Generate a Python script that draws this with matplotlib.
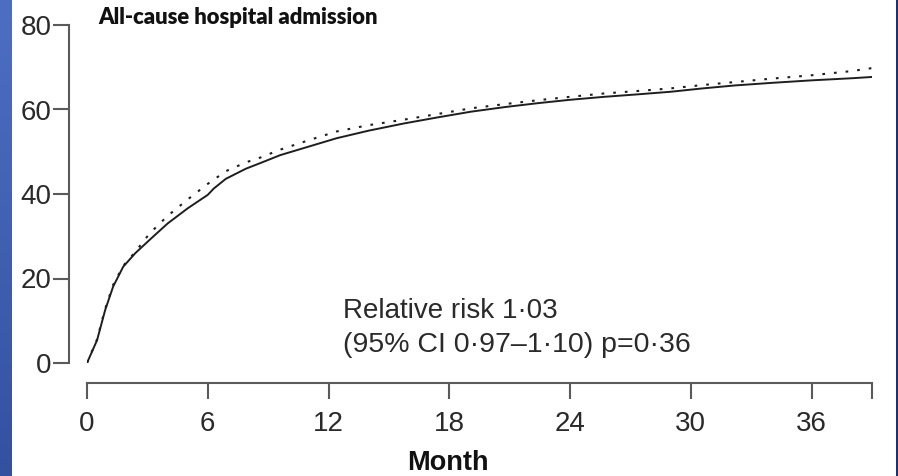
import numpy as np
import matplotlib
matplotlib.use('Agg')
import matplotlib.pyplot as plt
from matplotlib.colors import LinearSegmentedColormap

# cumulative proportion admitted (%), read per month
months = [0, 0.5, 0.9, 1.3, 1.8, 2.4, 3.1, 4.0, 5.0, 6.0, 6.3, 6.9, 7.9,
          8.6, 9.6, 11, 12.4, 14, 15.75, 17.5, 19.1, 20.8, 22.4, 24, 25.7,
          27.4, 29.0, 30.6, 32.2, 34, 36, 38, 39]
solid = [0, 5.4, 12.5, 18.1, 22.8, 26.0, 29.1, 33.0, 36.6, 39.8, 41.3, 43.6,
         46.0, 47.3, 49.2, 51.2, 53.2, 55.0, 56.7, 58.2, 59.5, 60.6, 61.5,
         62.3, 63.0, 63.6, 64.2, 65.0, 65.7, 66.3, 66.9, 67.4, 67.7]
dotted = [0, 5.6, 12.8, 18.5, 23.0, 26.3, 30.6, 34.8, 38.7, 42.4, 43.4, 45.4,
          47.5, 48.6, 50.5, 52.7, 54.8, 56.3, 57.6, 59.0, 60.3, 61.3, 62.2,
          63.0, 63.8, 64.4, 65.0, 65.8, 66.5, 67.3, 68.1, 69.1, 69.8]

xticks = [0, 6, 12, 18, 24, 30, 36]
yticks = [0, 20, 40, 60, 80]
xmax = 39

title = 'All-cause hospital admission'
note1 = 'Relative risk 1\u00b703'
note2 = '(95% CI 0\u00b797\u20131\u00b710) p=0\u00b736'

plt.rcParams['font.family'] = ['Liberation Sans', 'DejaVu Sans']
axis_grey = '#5a5a5a'
ink = '#2a2a2a'

W, H = 898, 476
fig = plt.figure(figsize=(W / 100, H / 100), dpi=100)
fig.patch.set_facecolor('white')

# blue slide border on the left, thin dark edge on the right
strip = fig.add_axes([0, 0, 12 / W, 1])
grad = np.linspace(0, 1, 256).reshape(-1, 1)
strip.imshow(grad, aspect='auto',
             cmap=LinearSegmentedColormap.from_list('edge', ['#4d6fc2', '#3451a0']))
strip.axis('off')
edge = fig.add_axes([896 / W, 0, 2 / W, 1])
edge.set_facecolor('#1c2f78')
edge.set_xticks([])
edge.set_yticks([])
for s in edge.spines.values():
    s.set_visible(False)

ax = fig.add_axes([87 / W, (H - 363) / H, 785 / W, 338 / H])
ax.plot(months, solid, color='#1e1e1e', lw=1.4)
ax.plot(months, dotted, color='#1e1e1e', lw=1.5, dashes=(1.3, 4.3))

ax.set_xlim(0, xmax)
ax.set_ylim(0, 80)
ax.set_xticks(xticks + [xmax])
ax.set_xticklabels([str(t) for t in xticks] + [''])
ax.set_yticks(yticks)

for side in ('top', 'right'):
    ax.spines[side].set_visible(False)
ax.spines['left'].set_position(('outward', 13))
ax.spines['bottom'].set_position(('outward', 14.4))
ax.spines['left'].set_bounds(0, 80)
ax.spines['bottom'].set_bounds(0, xmax)
for side in ('left', 'bottom'):
    ax.spines[side].set_color(axis_grey)
    ax.spines[side].set_linewidth(1.5)

ax.tick_params(axis='both', length=11.5, width=1.5, color=axis_grey,
               labelsize=20, labelcolor=ink)
ax.tick_params(axis='y', pad=1)
ax.tick_params(axis='x', pad=9)

ax.text(12.72, 10.6, note1, fontsize=20, color=ink, va='baseline')
ax.text(12.72, 2.6, note2, fontsize=20.5, color=ink, va='baseline')

fig.text(98 / W, 1 - 24 / H, title, fontsize=15.8, fontweight='heavy',
         family=['Lato', 'Liberation Sans'], va='baseline', color='#111111')
fig.text(448 / W, 1 - 463 / H, 'Month', fontsize=19.5, fontweight='bold',
         ha='center', va='center', color='#111111')

fig.savefig('out.png', dpi=100)
